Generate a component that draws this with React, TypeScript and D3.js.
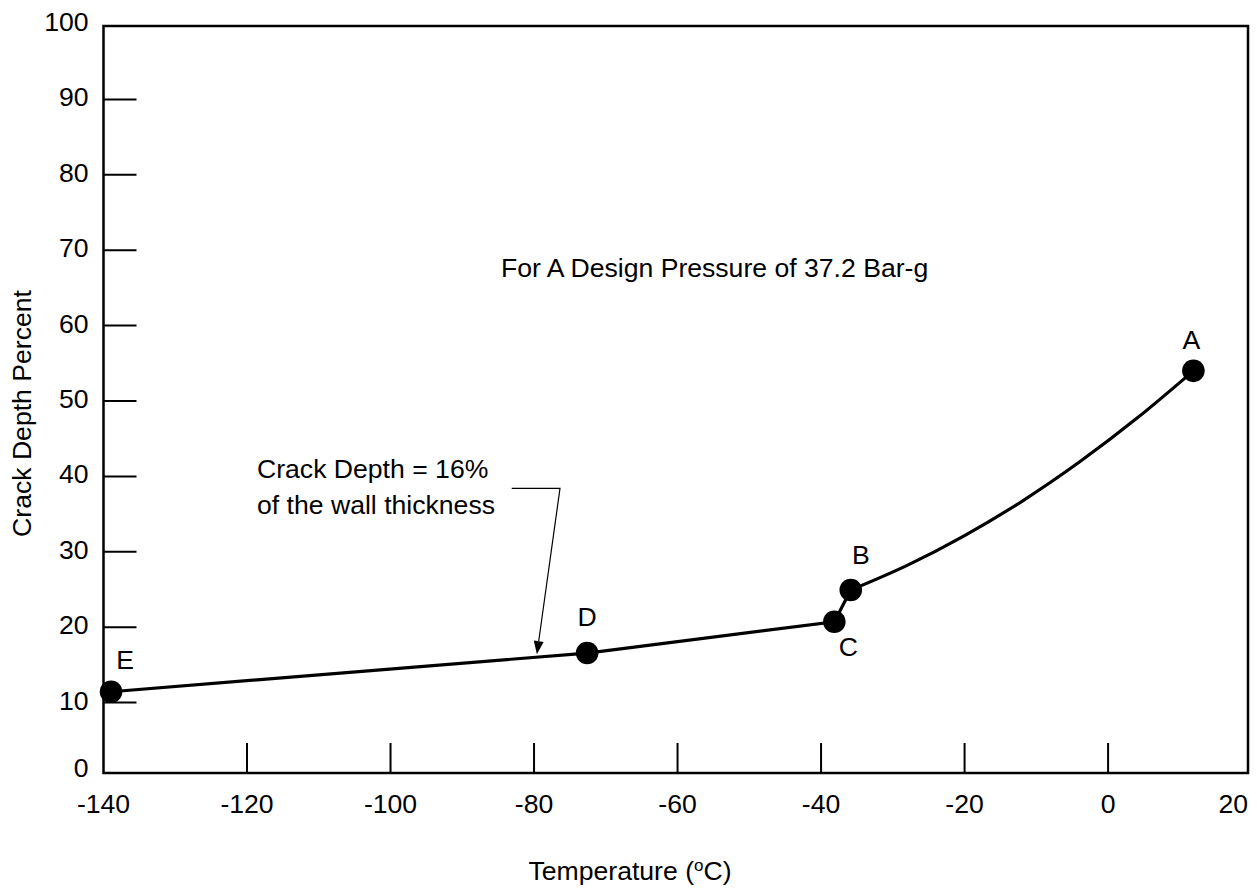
import React from "react";
import * as d3 from "d3";

// ---- data ----
const pointLabels = ["E", "D", "C", "B", "A"];
const pointTemps = [-138.95, -72.6, -38.15, -35.86, 11.89];
const pointDepths = [11.44, 16.57, 20.72, 24.93, 54.0];

// curve from B to A
const curveTemps = [-35.86, -28, -20, -12, -4, 4, 11.89];
const curveDepths = [24.93, 28.2, 32.15, 36.7, 41.9, 47.7, 54.0];

const xTickValues = [-140, -120, -100, -80, -60, -40, -20, 0, 20];
const yTickValues = [0, 10, 20, 30, 40, 50, 60, 70, 80, 90, 100];

const titleText = "For A Design Pressure of 37.2 Bar-g";
const noteLines = ["Crack Depth = 16%", "of the wall thickness"];
const noteArrowTemp = -79.6;

const W = 1257;
const H = 888;
const FONT = "Arial, 'Liberation Sans', Helvetica, sans-serif";
const FS = 26.6;

export default function App() {
  const x = d3.scaleLinear().domain([-140, 20]).range([103.5, 1251.6]);
  const y = d3.scaleLinear().domain([0, 100]).range([778, 24]);

  const frameL = 103.5;
  const frameR = 1248;
  const frameT = 26;
  const frameB = 773;

  const straightPts: [number, number][] = pointTemps.slice(0, 4).map((t, i) => [t, pointDepths[i]]);
  const lineStraight = d3
    .line<[number, number]>()
    .x((d) => x(d[0]))
    .y((d) => y(d[1]));
  const curvePts: [number, number][] = curveTemps.map((t, i) => [t, curveDepths[i]]);
  const lineCurve = d3
    .line<[number, number]>()
    .x((d) => x(d[0]))
    .y((d) => y(d[1]))
    .curve(d3.curveMonotoneX);

  const e = 0, dI = 1;
  const frac = (noteArrowTemp - pointTemps[e]) / (pointTemps[dI] - pointTemps[e]);
  const tipDepth = pointDepths[e] + frac * (pointDepths[dI] - pointDepths[e]);
  const tipX = x(noteArrowTemp);
  const tipY = y(tipDepth) - 3;
  const elbowX = 560;
  const elbowY = 488.3;
  const startX = 511.7;
  const ang = Math.atan2(tipY - elbowY, tipX - elbowX);
  const ahLen = 13;
  const ahW = 5;
  const bx = tipX - ahLen * Math.cos(ang);
  const by = tipY - ahLen * Math.sin(ang);
  const px = -Math.sin(ang);
  const py = Math.cos(ang);

  const labelOffsets: Record<string, [number, number]> = {
    E: [14, -23],
    D: [0, -27],
    C: [14, 34],
    B: [10, -26],
    A: [-2, -22],
  };

  return (
    <svg
      width={W}
      height={H}
      style={{ position: "absolute", left: 0, top: 0, background: "#fff" }}
      fontFamily={FONT}
    >
      <rect x={0} y={0} width={W} height={H} fill="#fff" />
      <rect
        x={frameL}
        y={frameT}
        width={frameR - frameL}
        height={frameB - frameT}
        fill="none"
        stroke="#000"
        strokeWidth={2.5}
      />
      {yTickValues
        .filter((v) => v > 0 && v < 100)
        .map((v) => (
          <line key={"yt" + v} x1={frameL} x2={frameL + 33} y1={y(v)} y2={y(v)} stroke="#000" strokeWidth={2} />
        ))}
      {yTickValues.map((v) => {
        const cy = Math.max(20, Math.min(767.5, y(v) - 2.5));
        return (
          <text key={"yl" + v} x={88.5} y={cy + 9.5} textAnchor="end" fontSize={FS} fill="#000">
            {v}
          </text>
        );
      })}
      {xTickValues
        .filter((v) => v > -140 && v < 20)
        .map((v) => (
          <line key={"xt" + v} x1={x(v)} x2={x(v)} y1={frameB} y2={frameB - 30} stroke="#000" strokeWidth={2} />
        ))}
      {xTickValues.map((v) => {
        const last = v === 20;
        return (
          <text
            key={"xl" + v}
            x={last ? frameR : x(v)}
            y={812.5}
            textAnchor={last ? "end" : "middle"}
            fontSize={FS}
            fill="#000"
          >
            {v}
          </text>
        );
      })}
      <text x={630} y={880} textAnchor="middle" fontSize={FS} fill="#000">
        Temperature (<tspan fontSize={17} dy={-9}>o</tspan>
        <tspan dy={9}>C)</tspan>
      </text>
      <text
        transform={`translate(30.5,413.5) rotate(-90)`}
        textAnchor="middle"
        fontSize={FS}
        fill="#000"
      >
        Crack Depth Percent
      </text>
      <text x={501} y={277.3} fontSize={FS} fill="#000">
        {titleText}
      </text>
      <path d={lineStraight(straightPts) || ""} fill="none" stroke="#000" strokeWidth={3.2} />
      <path d={lineCurve(curvePts) || ""} fill="none" stroke="#000" strokeWidth={3.2} />
      {pointTemps.map((t, i) => (
        <circle key={"p" + i} cx={x(t)} cy={y(pointDepths[i])} r={11.3} fill="#000" />
      ))}
      {pointLabels.map((lab, i) => {
        const [dx, dy] = labelOffsets[lab];
        return (
          <text
            key={"lab" + lab}
            x={x(pointTemps[i]) + dx}
            y={y(pointDepths[i]) + dy}
            textAnchor="middle"
            fontSize={FS}
            fill="#000"
          >
            {lab}
          </text>
        );
      })}
      <text x={257} y={478.3} fontSize={FS} fill="#000">
        {noteLines[0]}
      </text>
      <text x={257} y={514} fontSize={FS} fill="#000">
        {noteLines[1]}
      </text>
      <polyline
        points={`${startX},${elbowY} ${elbowX},${elbowY} ${bx},${by}`}
        fill="none"
        stroke="#000"
        strokeWidth={1.2}
      />
      <polygon
        points={`${tipX},${tipY} ${bx + px * ahW},${by + py * ahW} ${bx - px * ahW},${by - py * ahW}`}
        fill="#000"
      />
    </svg>
  );
}
